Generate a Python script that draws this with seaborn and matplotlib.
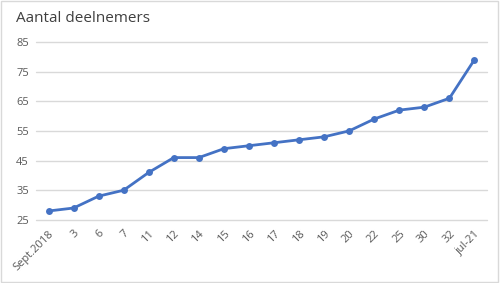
import matplotlib
matplotlib.use("Agg")
import matplotlib.pyplot as plt
import seaborn as sns
import pandas as pd

labels = ["Sept.2018", "3", "6", "7", "11", "12", "14", "15", "16", "17", "18", "19", "20", "22", "25", "30", "32", "jul-21"]
values = [28, 29, 33, 35, 41, 46, 46, 49, 50, 51, 52, 53, 55, 59, 62, 63, 66, 79]
yticks = [25, 35, 45, 55, 65, 75, 85]

sns.set_style("white")
plt.rcParams['font.family'] = ['Open Sans', 'DejaVu Sans']

df = pd.DataFrame({"label": labels, "value": values, "pos": range(len(labels))})

fig = plt.figure(figsize=(5, 2.83), dpi=100)
ax = fig.add_axes([0.072, 0.223, 0.902, 0.629])
sns.lineplot(data=df, x="pos", y="value", ax=ax, color="#4472C4", linewidth=2,
             marker="o", markersize=5, markeredgewidth=0, zorder=3)
ax.set_xlim(-0.5, len(labels) - 0.5)
ax.set_ylim(25, 85)
ax.set_yticks(yticks)
ax.set_xticks(range(len(labels)))
ax.set_xticklabels(labels, rotation=45, ha="right", rotation_mode="anchor")
ax.tick_params(axis="both", labelsize=8, colors="#595959", length=0)
ax.tick_params(axis="x", pad=6)
ax.tick_params(axis="y", pad=5)
for yv in yticks:
    ax.axhline(yv, color="#D9D9D9", linewidth=1, zorder=1, clip_on=False)
for s in ax.spines.values():
    s.set_visible(False)
ax.set_xlabel("")
ax.set_ylabel("")
fig.text(0.032, 0.935, "Aantal deelnemers", fontsize=11, color="#404040", ha="left", va="center")
fig.patches.append(plt.Rectangle((0.002, 0.004), 0.994, 0.992, transform=fig.transFigure,
                                 fill=False, edgecolor="#D9D9D9", linewidth=1))
fig.savefig("out.png", dpi=100)
